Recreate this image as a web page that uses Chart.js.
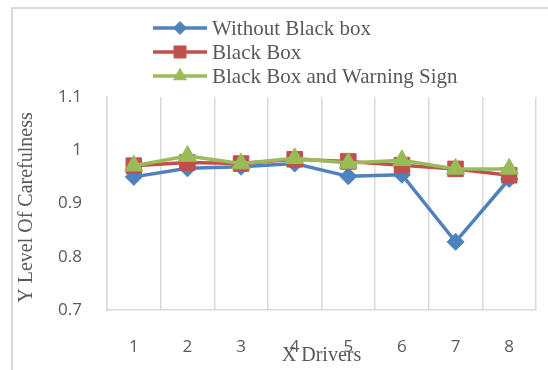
<!DOCTYPE html>
<html><head><meta charset="utf-8">
<script src="https://cdn.jsdelivr.net/npm/chart.js@4/dist/chart.umd.min.js"></script>
<style>html,body{margin:0;padding:0;background:#fff}#wrap{position:relative;width:548px;height:370px}</style>
</head><body><div id="wrap"><canvas id="c" width="548" height="370"></canvas></div>
<script>
const categories = ['1','2','3','4','5','6','7','8'];
const withoutBlackBox = [0.950, 0.966, 0.969, 0.975, 0.951, 0.954, 0.828, 0.946];
const blackBox = [0.971, 0.977, 0.975, 0.983, 0.979, 0.972, 0.965, 0.953];
const blackBoxWarning = [0.971, 0.989, 0.975, 0.985, 0.976, 0.981, 0.965, 0.965];
const yTicks = [0.7, 0.8, 0.9, 1.0, 1.1];
const seriesNames = ['Without Black box', 'Black Box', 'Black Box and Warning Sign'];
const xTitle = 'X Drivers';
const yTitle = 'Y Level Of Carefulness';

const colors = ['#4f81bd', '#c0504d', '#9bbb59'];
const styles = ['rectRot', 'rect', 'triangle'];
const radii = [8.5, 11, 10.5];
const legendRadii = [6.5, 8.5, 7.5];
const serif = '"Liberation Serif", "Times New Roman", serif';
const sans = '"Open Sans", sans-serif';

const decor = {
  id: 'decor',
  beforeDraw(chart) {
    const ctx = chart.ctx;
    ctx.save();
    ctx.strokeStyle = '#d9d9d9';
    ctx.lineWidth = 2;
    ctx.beginPath();
    ctx.moveTo(12, 370); ctx.lineTo(12, 8); ctx.lineTo(548, 8);
    ctx.stroke();
    ctx.restore();
  },
  afterDraw(chart) {
    const ctx = chart.ctx, a = chart.chartArea;
    ctx.save();
    ctx.fillStyle = '#595959';
    ctx.font = '20px ' + serif;
    ctx.textAlign = 'center';
    ctx.textBaseline = 'middle';
    ctx.fillText(xTitle, (a.left + a.right) / 2, 356);
    ctx.translate(27, (a.top + a.bottom) / 2 + 4);
    ctx.rotate(-Math.PI / 2);
    ctx.fillText(yTitle, 0, 0);
    ctx.restore();
    const ys = [28, 52, 76];
    chart.data.datasets.forEach((ds, i) => {
      const y = ys[i];
      ctx.save();
      ctx.strokeStyle = ds.borderColor;
      ctx.lineWidth = 3.5;
      ctx.beginPath(); ctx.moveTo(153, y); ctx.lineTo(207, y); ctx.stroke();
      ctx.fillStyle = ds.backgroundColor;
      ctx.strokeStyle = ds.borderColor;
      ctx.lineWidth = 1;
      Chart.helpers.drawPoint(ctx, {pointStyle: ds.pointStyle, radius: legendRadii[i], rotation: 0, borderWidth: 1}, 180, y);
      ctx.fillStyle = '#595959';
      ctx.font = '21px ' + serif;
      ctx.textAlign = 'left';
      ctx.textBaseline = 'middle';
      ctx.fillText(ds.label, 212, y + 1);
      ctx.restore();
    });
  }
};

const sets = [withoutBlackBox, blackBox, blackBoxWarning];
new Chart(document.getElementById('c'), {
  type: 'line',
  data: {
    labels: categories,
    datasets: sets.map((d, i) => ({
      label: seriesNames[i],
      data: d,
      borderColor: colors[i],
      backgroundColor: colors[i],
      borderWidth: 3.5,
      pointStyle: styles[i],
      pointRadius: radii[i],
      pointHoverRadius: radii[i],
      pointBorderWidth: 1,
      tension: 0,
      order: 2 - i
    }))
  },
  options: {
    responsive: false,
    animation: false,
    events: [],
    layout: {padding: {top: 97, right: 11, left: 0, bottom: 0}},
    plugins: {legend: {display: false}, tooltip: {enabled: false}},
    scales: {
      x: {
        offset: true,
        grid: {offset: true, color: '#d9d9d9', lineWidth: 1.5, drawTicks: false},
        border: {color: '#d9d9d9', width: 1.5},
        ticks: {color: '#595959', font: {family: sans, size: 17}, padding: 27},
        afterFit(s) { s.height = 60; }
      },
      y: {
        min: 0.7, max: 1.1,
        afterBuildTicks(s) { s.ticks = yTicks.map(v => ({value: v})); },
        grid: {display: false, drawTicks: false},
        border: {color: '#d9d9d9', width: 1.5},
        ticks: {color: '#595959', font: {family: sans, size: 17}, padding: 25,
          callback: v => String(Number(v.toFixed(1)))},
        afterFit(s) { s.width = 107; }
      }
    }
  },
  plugins: [decor]
});
</script></body></html>
